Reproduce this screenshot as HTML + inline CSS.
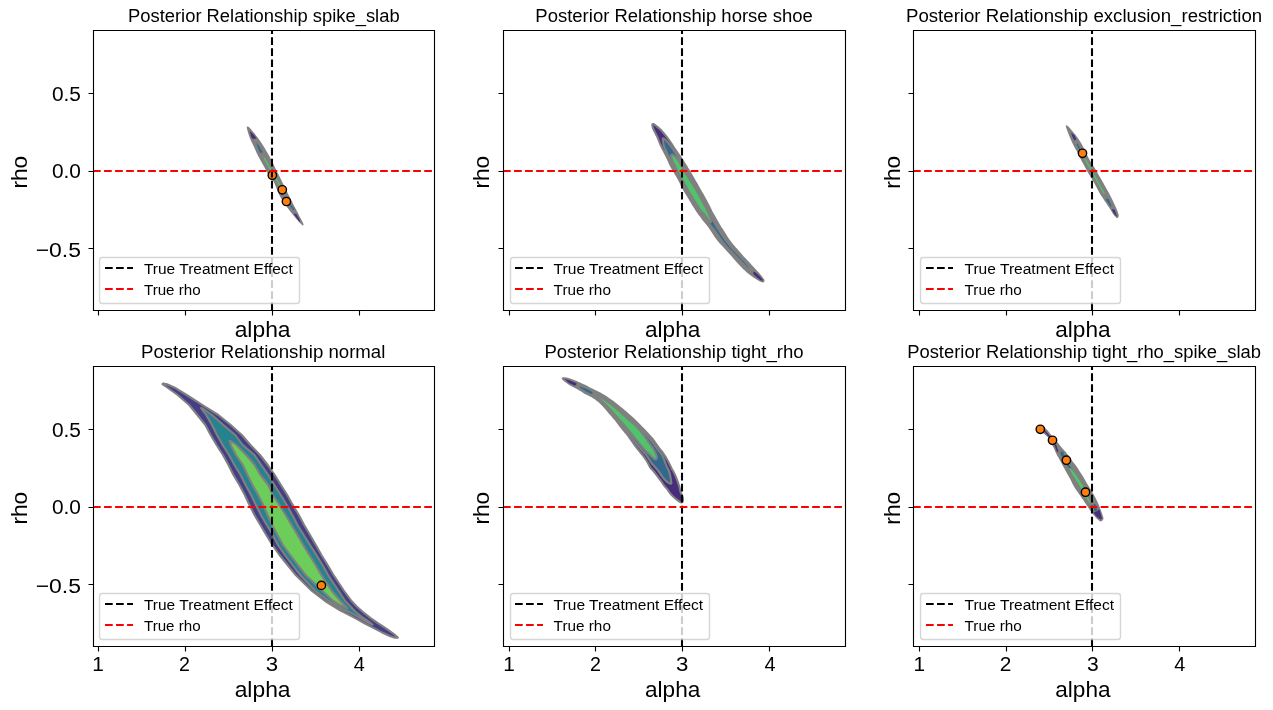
<!DOCTYPE html>
<html><head><meta charset="utf-8"><title>Posterior Relationship</title><style>html,body{margin:0;padding:0;background:#fff;overflow:hidden}svg{display:block;will-change:transform}text{font-family:"Liberation Sans",sans-serif;fill:#000}</style></head><body>
<svg width="1273" height="710" viewBox="0 0 1273 710">
<rect width="1273" height="710" fill="#ffffff"/>
<!-- axes 0 -->
<clipPath id="c0"><rect x="93" y="30" width="341" height="280"/></clipPath>
<g clip-path="url(#c0)">
<path d="M247.85 126.6 L248.35 126.8 L249.07 127.36 L250.03 128.29 L251.2 129.57 L252.6 131.22 L253.94 132.84 L255.21 134.41 L256.43 135.95 L257.57 137.45 L258.69 138.96 L259.76 140.47 L260.8 141.99 L261.8 143.51 L262.78 145.04 L263.73 146.56 L264.65 148.09 L265.55 149.61 L266.32 150.92 L266.97 152.01 L267.5 152.88 L267.9 153.52 L268.44 154.46 L269.11 155.67 L269.92 157.16 L270.88 158.94 L271.81 160.74 L272.72 162.58 L273.61 164.45 L274.49 166.35 L275.34 168.16 L276.16 169.87 L276.96 171.49 L277.74 173.01 L278.51 174.54 L279.27 176.06 L280.02 177.59 L280.77 179.11 L281.49 180.57 L282.18 181.96 L282.84 183.28 L283.46 184.53 L284.12 185.84 L284.81 187.23 L285.52 188.69 L286.27 190.21 L287.05 191.78 L287.85 193.39 L288.68 195.05 L289.53 196.75 L290.38 198.44 L291.23 200.13 L292.07 201.81 L292.93 203.49 L293.77 205.13 L294.61 206.74 L295.44 208.33 L296.26 209.88 L297.09 211.46 L297.93 213.09 L298.77 214.75 L299.62 216.45 L300.44 218.04 L301.21 219.53 L301.95 220.91 L302.65 222.19 L303.14 223.23 L303.43 224.04 L303.51 224.62 L303.39 224.98 L303.26 225.24 L303.12 225.41 L302.97 225.5 L302.82 225.5 L302.57 225.38 L302.23 225.12 L301.78 224.75 L301.22 224.25 L300.53 223.56 L299.69 222.67 L298.71 221.59 L297.59 220.31 L296.46 219.01 L295.34 217.67 L294.21 216.3 L293.09 214.9 L291.99 213.53 L290.93 212.19 L289.9 210.89 L288.9 209.61 L287.91 208.31 L286.92 206.97 L285.94 205.6 L284.96 204.2 L283.95 202.69 L282.9 201.08 L281.81 199.36 L280.69 197.54 L279.66 195.68 L278.72 193.79 L277.88 191.88 L277.12 189.92 L276.39 188.05 L275.68 186.25 L274.99 184.52 L274.31 182.88 L273.43 181.16 L272.33 179.39 L271.01 177.55 L269.49 175.65 L268.16 173.84 L267.02 172.13 L266.07 170.51 L265.32 168.99 L264.54 167.46 L263.71 165.94 L262.85 164.41 L261.95 162.89 L261.06 161.33 L260.17 159.74 L259.29 158.12 L258.41 156.48 L257.58 154.82 L256.77 153.16 L256.01 151.49 L255.29 149.81 L254.56 148.18 L253.82 146.59 L253.07 145.05 L252.32 143.55 L251.6 142.01 L250.9 140.44 L250.22 138.83 L249.57 137.17 L248.96 135.49 L248.39 133.78 L247.85 132.04 L247.35 130.26 L247.01 128.85 L246.82 127.8 L246.79 127.11 L246.91 126.79 L247.13 126.59 L247.44 126.53Z" fill="#808080"/>
<path d="M249.6 131.1 L254 135 L256.5 138.5 L253 139 L251.5 137.5Z" fill="#472d7b"/>
<path d="M256.2 142.8 L259 146 L262.8 152.4 L260.3 153 L258 148Z" fill="#30688e"/>
<path d="M279.38 185.7 L279.41 185.75 L279.45 185.79 L279.49 185.84 L279.53 185.88 L279.58 185.91 L279.63 185.94 L279.69 185.96 L279.74 185.98 L279.8 185.99 L279.86 186 L279.92 186 L279.98 185.99 L280.04 185.98 L280.09 185.97 L280.15 185.95 L280.2 185.92 L280.25 185.89 L280.29 185.85 L280.34 185.81 L280.38 185.77 L280.41 185.72 L280.44 185.67 L280.46 185.61 L280.48 185.56 L280.49 185.5 L280.5 185.44 L280.5 185.38 L280.49 185.32 L280.48 185.26 L280.47 185.21 L280.45 185.15 L280.42 185.1 L264.72 157.8 L264.69 157.75 L264.65 157.71 L264.61 157.66 L264.57 157.62 L264.52 157.59 L264.47 157.56 L264.41 157.54 L264.36 157.52 L264.3 157.51 L264.24 157.5 L264.18 157.5 L264.12 157.51 L264.06 157.52 L264.01 157.53 L263.95 157.55 L263.9 157.58 L263.85 157.61 L263.81 157.65 L263.76 157.69 L263.72 157.73 L263.69 157.78 L263.66 157.83 L263.64 157.89 L263.62 157.94 L263.61 158 L263.6 158.06 L263.6 158.12 L263.61 158.18 L263.62 158.24 L263.63 158.29 L263.65 158.35 L263.68 158.4Z" fill="#50c46a"/>
<path d="M293 209.86 L293.05 209.91 L293.1 209.96 L293.16 210.01 L293.22 210.05 L293.29 210.08 L293.36 210.11 L293.43 210.13 L293.5 210.14 L293.57 210.15 L293.65 210.15 L293.72 210.14 L293.79 210.12 L293.86 210.1 L293.93 210.07 L293.99 210.04 L294.06 210 L294.11 209.95 L294.16 209.9 L294.21 209.84 L294.25 209.78 L294.28 209.71 L294.31 209.64 L294.33 209.57 L294.34 209.5 L294.35 209.43 L294.35 209.35 L294.34 209.28 L294.32 209.21 L294.3 209.14 L294.27 209.07 L294.24 209.01 L294.2 208.94 L290.3 203.84 L290.25 203.79 L290.2 203.74 L290.14 203.69 L290.08 203.65 L290.01 203.62 L289.94 203.59 L289.87 203.57 L289.8 203.56 L289.73 203.55 L289.65 203.55 L289.58 203.56 L289.51 203.58 L289.44 203.6 L289.37 203.63 L289.31 203.66 L289.24 203.7 L289.19 203.75 L289.14 203.8 L289.09 203.86 L289.05 203.92 L289.02 203.99 L288.99 204.06 L288.97 204.13 L288.96 204.2 L288.95 204.27 L288.95 204.35 L288.96 204.42 L288.98 204.49 L289 204.56 L289.03 204.63 L289.06 204.69 L289.1 204.76Z" fill="#30688e"/>
<path d="M294.2 213.4 L296.4 213.9 L300.4 221.2 L299.2 221.8 L294.2 214.5Z" fill="#472d7b"/>
<circle cx="272.3" cy="175.3" r="4.167" fill="#ff7f0e" stroke="#000000" stroke-width="1.389"/>
<circle cx="282.3" cy="189.8" r="4.167" fill="#ff7f0e" stroke="#000000" stroke-width="1.389"/>
<circle cx="286.4" cy="201.5" r="4.167" fill="#ff7f0e" stroke="#000000" stroke-width="1.389"/>
<path d="M272 310 L272 30" stroke="#000000" stroke-width="2.083" stroke-dasharray="7.708 3.333" fill="none"/>
<path d="M93 171 L434 171" stroke="#ff0000" stroke-width="2.083" stroke-dasharray="7.708 3.333" fill="none"/>
</g>
<path d="M93.5 310.5 L93.5 30.5 M434.5 310.5 L434.5 30.5 M93.5 310.5 L434.5 310.5 M93.5 30.5 L434.5 30.5" stroke="#000000" stroke-width="1.111" stroke-linecap="square" fill="none"/>
<path d="M98.5 310.5 L98.5 315.5 M185.5 310.5 L185.5 315.5 M272.5 310.5 L272.5 315.5 M359.5 310.5 L359.5 315.5 M93.5 248.5 L88.5 248.5 M93.5 171.5 L88.5 171.5 M93.5 93.5 L88.5 93.5" stroke="#000000" stroke-width="1.111" fill="none"/>
<!-- axes 1 -->
<clipPath id="c1"><rect x="503" y="30" width="342" height="280"/></clipPath>
<g clip-path="url(#c1)">
<path d="M652.56 123.03 L653.14 122.97 L653.74 123.08 L654.38 123.33 L655.05 123.72 L655.75 124.28 L656.52 124.88 L657.36 125.54 L658.26 126.26 L659.24 127.04 L660.21 127.89 L661.19 128.83 L662.16 129.85 L663.14 130.95 L664.12 132.09 L665.11 133.28 L666.1 134.51 L667.1 135.79 L668.09 137.09 L669.08 138.41 L670.06 139.76 L671.04 141.14 L671.95 142.46 L672.8 143.74 L673.59 144.96 L674.31 146.14 L675.11 147.39 L675.97 148.71 L676.9 150.11 L677.9 151.59 L678.89 153.06 L679.88 154.54 L680.86 156.01 L681.84 157.49 L682.76 158.89 L683.62 160.23 L684.42 161.5 L685.17 162.7 L685.97 163.99 L686.82 165.36 L687.72 166.82 L688.68 168.38 L689.64 169.97 L690.61 171.62 L691.6 173.32 L692.6 175.07 L693.57 176.76 L694.51 178.37 L695.41 179.91 L696.29 181.39 L697.14 182.85 L697.96 184.3 L698.76 185.74 L699.54 187.16 L700.24 188.44 L700.88 189.58 L701.45 190.57 L701.95 191.43 L702.57 192.5 L703.31 193.8 L704.16 195.32 L705.14 197.07 L706.07 198.76 L706.96 200.37 L707.8 201.91 L708.6 203.39 L709.37 204.86 L710.11 206.34 L710.81 207.81 L711.49 209.29 L712.11 210.59 L712.69 211.73 L713.21 212.7 L713.69 213.5 L714.29 214.54 L715.01 215.81 L715.86 217.32 L716.84 219.07 L717.79 220.76 L718.71 222.37 L719.61 223.91 L720.49 225.39 L721.25 226.64 L721.9 227.68 L722.44 228.5 L722.86 229.1 L723.41 229.93 L724.09 230.99 L724.89 232.29 L725.81 233.81 L726.78 235.34 L727.78 236.88 L728.81 238.42 L729.89 239.98 L730.99 241.49 L732.11 242.96 L733.26 244.4 L734.44 245.8 L735.64 247.21 L736.88 248.62 L738.15 250.04 L739.45 251.46 L740.54 252.68 L741.41 253.69 L742.07 254.5 L742.53 255.1 L743.13 255.81 L743.88 256.64 L744.78 257.58 L745.82 258.62 L746.91 259.73 L748.02 260.89 L749.16 262.11 L750.34 263.39 L751.51 264.66 L752.67 265.94 L753.83 267.21 L754.98 268.49 L756.11 269.73 L757.22 270.94 L758.31 272.12 L759.39 273.27 L760.37 274.38 L761.28 275.42 L762.09 276.42 L762.81 277.38 L763.41 278.22 L763.89 278.96 L764.24 279.59 L764.46 280.11 L764.55 280.61 L764.5 281.09 L764.31 281.54 L763.99 281.96 L763.59 282.26 L763.11 282.42 L762.56 282.45 L761.94 282.35 L761.12 282.06 L760.12 281.59 L758.94 280.93 L757.56 280.07 L756.19 279.2 L754.81 278.3 L753.44 277.38 L752.06 276.42 L750.71 275.45 L749.39 274.45 L748.09 273.42 L746.81 272.38 L745.54 271.27 L744.26 270.11 L742.99 268.89 L741.71 267.61 L740.47 266.34 L739.26 265.06 L738.08 263.79 L736.92 262.51 L735.83 261.27 L734.78 260.06 L733.78 258.88 L732.82 257.73 L731.94 256.68 L731.11 255.74 L730.35 254.91 L729.65 254.19 L728.81 253.29 L727.82 252.23 L726.69 251 L725.41 249.6 L724.16 248.23 L722.92 246.87 L721.7 245.55 L720.5 244.25 L719.31 242.89 L718.12 241.46 L716.94 239.98 L715.76 238.42 L714.64 236.88 L713.58 235.34 L712.57 233.81 L711.62 232.29 L710.68 230.83 L709.74 229.42 L708.81 228.09 L707.89 226.81 L706.92 225.54 L705.92 224.26 L704.89 222.99 L703.81 221.71 L702.74 220.39 L701.66 219.01 L700.59 217.59 L699.51 216.11 L698.46 214.64 L697.42 213.16 L696.4 211.69 L695.4 210.21 L694.34 208.59 L693.23 206.81 L692.06 204.89 L690.84 202.81 L689.69 200.89 L688.63 199.13 L687.65 197.52 L686.75 196.08 L685.86 194.62 L684.97 193.16 L684.09 191.69 L683.21 190.21 L682.34 188.64 L681.46 186.96 L680.59 185.19 L679.71 183.31 L678.86 181.56 L678.02 179.94 L677.2 178.44 L676.4 177.06 L675.61 175.71 L674.82 174.39 L674.04 173.09 L673.26 171.81 L672.49 170.52 L671.71 169.21 L670.94 167.88 L670.16 166.52 L669.47 165.21 L668.86 163.94 L668.33 162.7 L667.88 161.5 L667.34 160.23 L666.71 158.89 L666 157.49 L665.2 156.01 L664.41 154.54 L663.62 153.06 L662.84 151.59 L662.06 150.11 L661.32 148.67 L660.62 147.26 L659.96 145.88 L659.34 144.52 L658.77 143.24 L658.26 142.01 L657.8 140.85 L657.4 139.75 L656.95 138.63 L656.45 137.49 L655.9 136.34 L655.3 135.16 L654.71 134.01 L654.12 132.87 L653.54 131.75 L652.96 130.65 L652.47 129.58 L652.06 128.54 L651.73 127.54 L651.48 126.56 L651.33 125.71 L651.27 124.97 L651.33 124.35 L651.48 123.85 L651.73 123.46 L652.09 123.19Z" fill="#808080"/>
<path d="M653.39 125.46 L653.51 126.12 L653.72 126.95 L654.01 127.83 L654.38 128.76 L654.83 129.73 L655.38 130.79 L655.38 130.79 L655.96 131.91 L655.97 131.91 L656.55 133.05 L656.56 133.06 L657.15 134.21 L657.15 134.22 L657.75 135.39 L657.78 135.44 L658.33 136.6 L658.35 136.66 L658.85 137.79 L658.88 137.86 L659.33 138.97 L659.35 139.04 L659.75 140.11 L660.18 141.23 L660.68 142.42 L661.23 143.67 L661.84 144.99 L662.49 146.34 L663.18 147.73 L663.91 149.16 L664.35 150 L674.33 150 L674.24 149.86 L674.23 149.85 L673.36 148.52 L673.35 148.5 L672.56 147.25 L672.54 147.23 L671.83 146.07 L671.06 144.88 L670.23 143.63 L669.33 142.33 L668.37 140.98 L667.41 139.65 L666.43 138.34 L665.46 137.06 L664.47 135.81 L663.5 134.6 L662.53 133.44 L661.57 132.32 L660.63 131.26 L659.71 130.3 L658.8 129.43 L657.9 128.63 L656.97 127.89 L656.06 127.17 L655.23 126.51 L654.46 125.91 L653.87 125.44 L653.46 125.2 L653.37 125.16Z" fill="#472d7b"/>
<path d="M662.94 140.61 L663.1 141.56 L663.25 142.52 L663.39 143.5 L663.51 144.5 L663.74 145.5 L664.06 146.5 L664.49 147.5 L665.01 148.5 L665.51 149.5 L665.97 150.5 L666.4 151.5 L666.8 152.5 L667.23 153.5 L667.69 154.5 L668.19 155.5 L668.71 156.5 L669.2 157.47 L669.65 158.43 L670.06 159.35 L670.44 160.25 L670.81 161.11 L671.19 161.92 L671.56 162.69 L671.94 163.41 L672.38 164.29 L672.88 165.33 L673.44 166.52 L674.06 167.88 L674.52 168.84 L674.72 169.19 L675.49 170.47 L676.26 171.74 L676.27 171.75 L677.05 173.05 L677.05 173.06 L677.84 174.38 L677.85 174.39 L678.64 175.74 L678.65 175.75 L679.45 177.13 L679.48 177.19 L680.3 178.69 L680.33 178.75 L681.17 180.37 L681.19 180.42 L682.05 182.17 L682.07 182.21 L682.93 184.06 L683.78 185.79 L684.63 187.4 L685.47 188.92 L686.32 190.36 L687.19 191.81 L688.08 193.26 L688.96 194.71 L689.86 196.15 L689.87 196.17 L690.85 197.78 L690.86 197.79 L691.92 199.55 L691.93 199.56 L692.5 200.52 L693.14 201.49 L694.09 202.96 L695.01 204.44 L695.91 205.91 L696.79 207.39 L697.66 208.71 L698.52 209.89 L699.38 210.91 L700.22 211.79 L701.11 212.76 L702.04 213.84 L703 215.01 L704 216.29 L705 217.61 L706 218.97 L707 220.38 L708 221.83 L708.94 223.16 L709.81 224.39 L710.62 225.5 L711.38 226.5 L712.07 227.38 L712.71 228.12 L713.29 228.75 L713.81 229.25 L714.78 230.51 L716.19 232.54 L718.05 235.33 L720.35 238.88 L722.96 242.42 L725.89 245.96 L729.12 249.49 L732.68 253.01 L735.98 256.36 L739.04 259.52 L741.86 262.5 L744.44 265.3 L746.57 267.51 L748.26 269.14 L749.5 270.17 L750.3 270.62 L750.95 270.91 L751.45 271.04 L751.8 271 L752 270.8 L751.52 269.89 L750.37 268.26 L748.55 265.92 L746.05 262.88 L743.68 260.16 L742.94 259.41 L742.9 259.38 L742 258.44 L741.95 258.39 L741.2 257.56 L741.14 257.49 L740.54 256.77 L740.45 256.66 L740.27 256.43 L740.26 256.42 L736.97 253.01 L733.43 249.49 L730.19 245.96 L727.26 242.42 L724.65 238.88 L722.35 235.33 L720.41 232.35 L718.84 229.95 L717.62 228.12 L716.78 226.88 L716.01 225.66 L715.32 224.49 L714.71 223.35 L714.19 222.25 L713.62 221.01 L713.02 219.62 L712.39 218.09 L711.71 216.41 L711.03 214.79 L710.34 213.21 L709.65 211.69 L708.95 210.21 L708.14 208.59 L707.23 206.81 L706.21 204.89 L705.09 202.81 L704.02 200.84 L703.01 198.98 L702.05 197.22 L701.15 195.57 L700.31 194.05 L699.54 192.65 L698.83 191.37 L698.17 190.23 L697.46 189.01 L696.67 187.74 L695.81 186.4 L694.89 185 L693.95 183.56 L693 182.07 L692.04 180.54 L691.06 178.96 L690.11 177.41 L689.19 175.89 L688.29 174.39 L687.41 172.91 L686.55 171.46 L685.7 170.04 L684.86 168.64 L684.04 167.26 L683.32 166.01 L682.71 164.87 L682.2 163.85 L681.8 162.95 L681.3 162.05 L680.7 161.15 L680 160.25 L679.2 159.35 L678.5 158.43 L677.9 157.47 L677.4 156.5 L677 155.5 L676.51 154.5 L675.92 153.5 L675.24 152.5 L674.46 151.5 L673.72 150.5 L673.01 149.5 L672.32 148.5 L671.68 147.5 L670.96 146.47 L670.17 145.41 L669.31 144.31 L668.39 143.19 L667.51 142.16 L666.67 141.22 L665.88 140.38 L665.12 139.62 L664.47 139.05 L663.91 138.65 L663.44 138.43 L663.06 138.38 L662.83 138.57 L662.72 139.01 L662.76 139.69Z" fill="#30688e"/>
<path d="M671.65 158.21 L671.67 158.25 L672.17 159.72 L672.17 159.75 L672.65 161.03 L672.66 161.07 L673.11 162.17 L673.13 162.21 L673.56 163.13 L673.59 163.19 L673.98 163.9 L674.43 164.76 L674.93 165.79 L675.5 166.97 L676.12 168.31 L676.12 168.32 L676.76 169.67 L676.76 169.68 L677.41 171.04 L677.41 171.05 L678.08 172.42 L678.08 172.42 L678.75 173.8 L678.77 173.82 L679.47 175.17 L679.49 175.19 L680.22 176.52 L680.24 176.54 L681 177.84 L681.02 177.87 L681.81 179.13 L682.58 180.41 L683.34 181.72 L684.07 183.06 L684.79 184.42 L684.8 184.43 L685.55 185.83 L685.55 185.83 L686.32 187.26 L686.33 187.26 L687.13 188.71 L687.13 188.72 L687.95 190.2 L687.96 190.2 L688.8 191.68 L688.81 191.69 L689.67 193.16 L689.68 193.17 L690.56 194.65 L690.56 194.65 L691.46 196.13 L691.47 196.14 L692.39 197.61 L692.39 197.62 L693.33 199.1 L693.33 199.1 L694.29 200.58 L694.29 200.59 L695.27 202.06 L696.21 203.52 L697.13 204.98 L698.02 206.45 L698.89 207.92 L698.92 207.96 L699.79 209.28 L699.82 209.33 L700.68 210.5 L700.72 210.55 L701.58 211.58 L701.63 211.64 L702.47 212.5 L703.33 213.45 L704.24 214.51 L705.19 215.66 L706.18 216.92 L707.03 218.06 L707.75 219.07 L708.33 219.95 L708.79 220.73 L708.81 220.77 L709.17 221.32 L709.23 221.4 L709.47 221.7 L709.53 221.77 L709.61 221.85 L709.69 221.91 L709.78 221.96 L709.88 222.01 L710 222.06 L710.09 222.09 L710.19 222.12 L710.29 222.13 L710.4 222.14 L710.5 222.14 L710.6 222.12 L710.7 222.1 L710.79 222.06 L710.89 222.02 L710.98 221.97 L711.06 221.91 L711.13 221.84 L711.2 221.76 L711.26 221.68 L711.32 221.59 L711.36 221.5 L711.39 221.4 L711.42 221.3 L711.43 221.2 L711.44 221.1 L711.44 220.9 L711.44 220.8 L711.42 220.7 L711.4 220.6 L711.23 220.04 L711.21 219.98 L710.87 219.04 L710.86 219.02 L710.36 217.71 L710.35 217.7 L709.68 216.02 L709.67 216.01 L708.99 214.39 L708.98 214.37 L708.3 212.8 L708.29 212.78 L707.6 211.26 L707.59 211.24 L706.89 209.77 L706.88 209.76 L706.27 208.5 L706.27 208.49 L705.74 207.45 L705.73 207.43 L705.29 206.61 L705.27 206.58 L704.93 205.98 L704.48 205.18 L703.92 204.15 L703.26 202.9 L702.48 201.43 L702.48 201.42 L701.67 199.91 L701.67 199.9 L700.84 198.34 L700.83 198.34 L699.96 196.73 L699.96 196.73 L699.06 195.08 L699.06 195.07 L698.22 193.55 L698.22 193.55 L697.45 192.15 L697.45 192.14 L696.73 190.87 L696.73 190.86 L696.08 189.71 L696.07 189.69 L695.35 188.48 L695.34 188.47 L694.55 187.19 L694.54 187.18 L693.69 185.84 L693.68 185.83 L692.76 184.43 L691.82 182.99 L690.88 181.51 L689.92 179.99 L688.95 178.42 L688 176.87 L687.08 175.35 L686.18 173.85 L685.31 172.38 L685.31 172.38 L684.44 170.93 L684.44 170.93 L683.59 169.5 L683.59 169.5 L682.75 168.1 L682.75 168.1 L681.93 166.74 L681.23 165.5 L680.63 164.39 L680.14 163.41 L679.75 162.53 L679.71 162.44 L679.21 161.54 L679.17 161.47 L678.57 160.57 L678.52 160.51 L677.82 159.61 L677.78 159.56 L676.98 158.66 L676.97 158.65 L676.21 157.82 L676.2 157.81 L675.49 157.05 L675.48 157.03 L674.81 156.34 L674.8 156.33 L674.17 155.7 L674.13 155.66 L673.63 155.21 L673.55 155.15 L673.16 154.86 L673.07 154.79 L672.96 154.74 L672.7 154.62 L672.61 154.59 L672.51 154.56 L672.42 154.55 L672.32 154.54 L672.23 154.54 L672.13 154.54 L672.04 154.56 L671.95 154.59 L671.8 154.64 L671.7 154.68 L671.61 154.72 L671.52 154.78 L671.44 154.84 L671.37 154.91 L671.3 154.99 L671.24 155.07 L671.19 155.16 L671.15 155.26 L671.12 155.35 L671.1 155.45 L671.09 155.55 L671.09 155.66 L671.1 156.06 L671.11 156.16 L671.12 156.26 L671.3 157.03 L671.32 157.09Z" fill="#50c46a"/>
<path d="M753.4 271.6 L755 272.1 L759 275.5 L762.7 279.7 L762.7 280.5 L761 280.5 L757 277.5 L753.4 274.2Z" fill="#472d7b"/>
<path d="M662.94 140.61 L663.1 141.56 L663.25 142.52 L663.39 143.5 L663.51 144.5 L663.74 145.5 L664.06 146.5 L664.49 147.5 L665.01 148.5 L665.51 149.5 L665.97 150.5 L666.4 151.5 L666.8 152.5 L667.23 153.5 L667.69 154.5 L668.19 155.5 L668.71 156.5 L669.2 157.47 L669.65 158.43 L670.06 159.35 L670.44 160.25 L670.81 161.11 L671.19 161.92 L671.56 162.69 L671.94 163.41 L672.38 164.29 L672.88 165.33 L673.44 166.52 L674.06 167.88 L674.52 168.84 L674.72 169.19 L675.49 170.47 L676.26 171.74 L676.27 171.75 L677.05 173.05 L677.05 173.06 L677.84 174.38 L677.85 174.39 L678.64 175.74 L678.65 175.75 L679.45 177.13 L679.48 177.19 L680.3 178.69 L680.33 178.75 L681.17 180.37 L681.19 180.42 L682.05 182.17 L682.07 182.21 L682.93 184.06 L683.78 185.79 L684.63 187.4 L685.47 188.92 L686.32 190.36 L687.19 191.81 L688.08 193.26 L688.96 194.71 L689.86 196.15 L689.87 196.17 L690.85 197.78 L690.86 197.79 L691.92 199.55 L691.93 199.56 L692.5 200.52 L693.14 201.49 L694.09 202.96 L695.01 204.44 L695.91 205.91 L696.79 207.39 L697.66 208.71 L698.52 209.89 L699.38 210.91 L700.22 211.79 L701.11 212.76 L702.04 213.84 L703 215.01 L704 216.29 L705 217.61 L706 218.97 L707 220.38 L708 221.83 L708.94 223.16 L709.81 224.39 L710.62 225.5 L711.38 226.5 L712.07 227.38 L712.71 228.12 L713.29 228.75 L713.81 229.25 L714.78 230.51 L716.19 232.54 L718.05 235.33 L720.35 238.88 L722.96 242.42 L725.89 245.96 L729.12 249.49 L732.68 253.01 L735.98 256.36 L739.04 259.52 L741.86 262.5 L744.44 265.3 L746.57 267.51 L748.26 269.14 L749.5 270.17 L750.3 270.62 L750.95 270.91 L751.45 271.04 L751.8 271 L752 270.8 L751.52 269.89 L750.37 268.26 L748.55 265.92 L746.05 262.88 L743.68 260.16 L742.94 259.41 L742.9 259.38 L742 258.44 L741.95 258.39 L741.2 257.56 L741.14 257.49 L740.54 256.77 L740.45 256.66 L740.27 256.43 L740.26 256.42 L736.97 253.01 L733.43 249.49 L730.19 245.96 L727.26 242.42 L724.65 238.88 L722.35 235.33 L720.41 232.35 L718.84 229.95 L717.62 228.12 L716.78 226.88 L716.01 225.66 L715.32 224.49 L714.71 223.35 L714.19 222.25 L713.62 221.01 L713.02 219.62 L712.39 218.09 L711.71 216.41 L711.03 214.79 L710.34 213.21 L709.65 211.69 L708.95 210.21 L708.14 208.59 L707.23 206.81 L706.21 204.89 L705.09 202.81 L704.02 200.84 L703.01 198.98 L702.05 197.22 L701.15 195.57 L700.31 194.05 L699.54 192.65 L698.83 191.37 L698.17 190.23 L697.46 189.01 L696.67 187.74 L695.81 186.4 L694.89 185 L693.95 183.56 L693 182.07 L692.04 180.54 L691.06 178.96 L690.11 177.41 L689.19 175.89 L688.29 174.39 L687.41 172.91 L686.55 171.46 L685.7 170.04 L684.86 168.64 L684.04 167.26 L683.32 166.01 L682.71 164.87 L682.2 163.85 L681.8 162.95 L681.3 162.05 L680.7 161.15 L680 160.25 L679.2 159.35 L678.5 158.43 L677.9 157.47 L677.4 156.5 L677 155.5 L676.51 154.5 L675.92 153.5 L675.24 152.5 L674.46 151.5 L673.72 150.5 L673.01 149.5 L672.32 148.5 L671.68 147.5 L670.96 146.47 L670.17 145.41 L669.31 144.31 L668.39 143.19 L667.51 142.16 L666.67 141.22 L665.88 140.38 L665.12 139.62 L664.47 139.05 L663.91 138.65 L663.44 138.43 L663.06 138.38 L662.83 138.57 L662.72 139.01 L662.76 139.69Z" fill="none" stroke="#808080" stroke-width="2.08" stroke-linejoin="round"/>
<path d="M671.65 158.21 L671.67 158.25 L672.17 159.72 L672.17 159.75 L672.65 161.03 L672.66 161.07 L673.11 162.17 L673.13 162.21 L673.56 163.13 L673.59 163.19 L673.98 163.9 L674.43 164.76 L674.93 165.79 L675.5 166.97 L676.12 168.31 L676.12 168.32 L676.76 169.67 L676.76 169.68 L677.41 171.04 L677.41 171.05 L678.08 172.42 L678.08 172.42 L678.75 173.8 L678.77 173.82 L679.47 175.17 L679.49 175.19 L680.22 176.52 L680.24 176.54 L681 177.84 L681.02 177.87 L681.81 179.13 L682.58 180.41 L683.34 181.72 L684.07 183.06 L684.79 184.42 L684.8 184.43 L685.55 185.83 L685.55 185.83 L686.32 187.26 L686.33 187.26 L687.13 188.71 L687.13 188.72 L687.95 190.2 L687.96 190.2 L688.8 191.68 L688.81 191.69 L689.67 193.16 L689.68 193.17 L690.56 194.65 L690.56 194.65 L691.46 196.13 L691.47 196.14 L692.39 197.61 L692.39 197.62 L693.33 199.1 L693.33 199.1 L694.29 200.58 L694.29 200.59 L695.27 202.06 L696.21 203.52 L697.13 204.98 L698.02 206.45 L698.89 207.92 L698.92 207.96 L699.79 209.28 L699.82 209.33 L700.68 210.5 L700.72 210.55 L701.58 211.58 L701.63 211.64 L702.47 212.5 L703.33 213.45 L704.24 214.51 L705.19 215.66 L706.18 216.92 L707.03 218.06 L707.75 219.07 L708.33 219.95 L708.79 220.73 L708.81 220.77 L709.17 221.32 L709.23 221.4 L709.47 221.7 L709.53 221.77 L709.61 221.85 L709.69 221.91 L709.78 221.96 L709.88 222.01 L710 222.06 L710.09 222.09 L710.19 222.12 L710.29 222.13 L710.4 222.14 L710.5 222.14 L710.6 222.12 L710.7 222.1 L710.79 222.06 L710.89 222.02 L710.98 221.97 L711.06 221.91 L711.13 221.84 L711.2 221.76 L711.26 221.68 L711.32 221.59 L711.36 221.5 L711.39 221.4 L711.42 221.3 L711.43 221.2 L711.44 221.1 L711.44 220.9 L711.44 220.8 L711.42 220.7 L711.4 220.6 L711.23 220.04 L711.21 219.98 L710.87 219.04 L710.86 219.02 L710.36 217.71 L710.35 217.7 L709.68 216.02 L709.67 216.01 L708.99 214.39 L708.98 214.37 L708.3 212.8 L708.29 212.78 L707.6 211.26 L707.59 211.24 L706.89 209.77 L706.88 209.76 L706.27 208.5 L706.27 208.49 L705.74 207.45 L705.73 207.43 L705.29 206.61 L705.27 206.58 L704.93 205.98 L704.48 205.18 L703.92 204.15 L703.26 202.9 L702.48 201.43 L702.48 201.42 L701.67 199.91 L701.67 199.9 L700.84 198.34 L700.83 198.34 L699.96 196.73 L699.96 196.73 L699.06 195.08 L699.06 195.07 L698.22 193.55 L698.22 193.55 L697.45 192.15 L697.45 192.14 L696.73 190.87 L696.73 190.86 L696.08 189.71 L696.07 189.69 L695.35 188.48 L695.34 188.47 L694.55 187.19 L694.54 187.18 L693.69 185.84 L693.68 185.83 L692.76 184.43 L691.82 182.99 L690.88 181.51 L689.92 179.99 L688.95 178.42 L688 176.87 L687.08 175.35 L686.18 173.85 L685.31 172.38 L685.31 172.38 L684.44 170.93 L684.44 170.93 L683.59 169.5 L683.59 169.5 L682.75 168.1 L682.75 168.1 L681.93 166.74 L681.23 165.5 L680.63 164.39 L680.14 163.41 L679.75 162.53 L679.71 162.44 L679.21 161.54 L679.17 161.47 L678.57 160.57 L678.52 160.51 L677.82 159.61 L677.78 159.56 L676.98 158.66 L676.97 158.65 L676.21 157.82 L676.2 157.81 L675.49 157.05 L675.48 157.03 L674.81 156.34 L674.8 156.33 L674.17 155.7 L674.13 155.66 L673.63 155.21 L673.55 155.15 L673.16 154.86 L673.07 154.79 L672.96 154.74 L672.7 154.62 L672.61 154.59 L672.51 154.56 L672.42 154.55 L672.32 154.54 L672.23 154.54 L672.13 154.54 L672.04 154.56 L671.95 154.59 L671.8 154.64 L671.7 154.68 L671.61 154.72 L671.52 154.78 L671.44 154.84 L671.37 154.91 L671.3 154.99 L671.24 155.07 L671.19 155.16 L671.15 155.26 L671.12 155.35 L671.1 155.45 L671.09 155.55 L671.09 155.66 L671.1 156.06 L671.11 156.16 L671.12 156.26 L671.3 157.03 L671.32 157.09Z" fill="none" stroke="#808080" stroke-width="2.08" stroke-linejoin="round"/>
<path d="M682 310 L682 30" stroke="#000000" stroke-width="2.083" stroke-dasharray="7.708 3.333" fill="none"/>
<path d="M503 171 L845 171" stroke="#ff0000" stroke-width="2.083" stroke-dasharray="7.708 3.333" fill="none"/>
</g>
<path d="M503.5 310.5 L503.5 30.5 M845.5 310.5 L845.5 30.5 M503.5 310.5 L845.5 310.5 M503.5 30.5 L845.5 30.5" stroke="#000000" stroke-width="1.111" stroke-linecap="square" fill="none"/>
<path d="M509.5 310.5 L509.5 315.5 M595.5 310.5 L595.5 315.5 M682.5 310.5 L682.5 315.5 M769.5 310.5 L769.5 315.5 M503.5 248.5 L498.5 248.5 M503.5 171.5 L498.5 171.5 M503.5 93.5 L498.5 93.5" stroke="#000000" stroke-width="1.111" fill="none"/>
<!-- axes 2 -->
<clipPath id="c2"><rect x="913" y="30" width="342" height="280"/></clipPath>
<g clip-path="url(#c2)">
<path d="M1066.91 125.51 L1067.39 125.79 L1068.03 126.31 L1068.82 127.09 L1069.79 128.11 L1070.91 129.39 L1072.04 130.69 L1073.18 132.03 L1074.33 133.4 L1075.48 134.8 L1076.58 136.24 L1077.64 137.71 L1078.66 139.22 L1079.64 140.78 L1080.58 142.32 L1081.49 143.87 L1082.38 145.42 L1083.22 146.97 L1084.05 148.56 L1084.85 150.17 L1085.62 151.81 L1086.38 153.49 L1087.16 155.16 L1087.97 156.82 L1088.81 158.48 L1089.69 160.12 L1090.61 161.74 L1091.59 163.33 L1092.61 164.89 L1093.69 166.41 L1094.71 167.97 L1095.69 169.56 L1096.61 171.18 L1097.49 172.83 L1098.37 174.44 L1099.26 176.01 L1100.15 177.55 L1101.05 179.05 L1101.91 180.51 L1102.72 181.94 L1103.49 183.32 L1104.21 184.68 L1105.01 186.12 L1105.87 187.66 L1106.8 189.29 L1107.8 191.01 L1108.77 192.75 L1109.71 194.5 L1110.61 196.26 L1111.49 198.04 L1112.34 199.78 L1113.16 201.49 L1113.96 203.18 L1114.74 204.82 L1115.47 206.44 L1116.18 208.03 L1116.84 209.59 L1117.46 211.11 L1117.96 212.44 L1118.34 213.58 L1118.59 214.53 L1118.71 215.28 L1118.71 215.96 L1118.59 216.59 L1118.34 217.15 L1117.96 217.65 L1117.62 217.99 L1117.31 218.18 L1117.03 218.21 L1116.78 218.09 L1116.39 217.78 L1115.88 217.28 L1115.24 216.59 L1114.46 215.71 L1113.63 214.64 L1112.74 213.38 L1111.8 211.93 L1110.8 210.28 L1109.73 208.56 L1108.59 206.79 L1107.39 204.95 L1106.11 203.05 L1104.84 201.15 L1103.58 199.25 L1102.33 197.35 L1101.08 195.45 L1100.01 193.77 L1099.14 192.31 L1098.45 191.06 L1097.95 190.04 L1097.39 188.92 L1096.76 187.71 L1096.08 186.4 L1095.33 185 L1094.51 183.54 L1093.64 182.01 L1092.7 180.43 L1091.7 178.78 L1090.73 177.16 L1089.78 175.57 L1088.85 174.01 L1087.95 172.49 L1087.06 170.93 L1086.17 169.34 L1085.29 167.72 L1084.41 166.07 L1083.58 164.52 L1082.79 163.06 L1082.05 161.69 L1081.35 160.41 L1080.66 159.09 L1079.99 157.73 L1079.33 156.32 L1078.67 154.88 L1077.98 153.43 L1077.23 151.99 L1076.42 150.56 L1075.58 149.14 L1074.73 147.65 L1073.89 146.1 L1073.06 144.49 L1072.24 142.81 L1071.44 141.1 L1070.66 139.35 L1069.91 137.56 L1069.19 135.74 L1068.49 133.94 L1067.81 132.18 L1067.16 130.45 L1066.54 128.75 L1066.11 127.41 L1065.87 126.42 L1065.83 125.79 L1065.98 125.51 L1066.21 125.37 L1066.52 125.37Z" fill="#808080"/>
<path d="M1071 132.4 L1074.5 135.5 L1076.3 139.4 L1074.5 140.5 L1072.5 137Z" fill="#472d7b"/>
<path d="M1079.42 150.19 L1079.45 150.24 L1079.48 150.29 L1079.52 150.34 L1079.57 150.39 L1079.62 150.43 L1079.67 150.46 L1079.73 150.49 L1079.79 150.52 L1079.85 150.53 L1079.91 150.54 L1079.98 150.55 L1080.04 150.55 L1080.1 150.54 L1080.17 150.53 L1080.23 150.51 L1080.29 150.48 L1080.34 150.45 L1080.39 150.42 L1080.44 150.38 L1080.49 150.33 L1080.53 150.28 L1080.56 150.23 L1080.59 150.17 L1080.62 150.11 L1080.63 150.05 L1080.64 149.99 L1080.65 149.92 L1080.65 149.86 L1080.64 149.8 L1080.63 149.73 L1080.61 149.67 L1080.58 149.61 L1077.78 143.91 L1077.75 143.86 L1077.72 143.81 L1077.68 143.76 L1077.63 143.71 L1077.58 143.67 L1077.53 143.64 L1077.47 143.61 L1077.41 143.58 L1077.35 143.57 L1077.29 143.56 L1077.22 143.55 L1077.16 143.55 L1077.1 143.56 L1077.03 143.57 L1076.97 143.59 L1076.91 143.62 L1076.86 143.65 L1076.81 143.68 L1076.76 143.72 L1076.71 143.77 L1076.67 143.82 L1076.64 143.87 L1076.61 143.93 L1076.58 143.99 L1076.57 144.05 L1076.56 144.11 L1076.55 144.18 L1076.55 144.24 L1076.56 144.3 L1076.57 144.37 L1076.59 144.43 L1076.62 144.49Z" fill="#30688e"/>
<path d="M1103.67 193.89 L1103.71 193.94 L1103.74 193.99 L1103.78 194.03 L1103.83 194.07 L1103.87 194.1 L1103.92 194.13 L1103.98 194.16 L1104.03 194.18 L1104.09 194.19 L1104.15 194.2 L1104.21 194.2 L1104.27 194.2 L1104.33 194.19 L1104.38 194.17 L1104.44 194.15 L1104.49 194.13 L1104.54 194.09 L1104.59 194.06 L1104.63 194.02 L1104.67 193.97 L1104.7 193.93 L1104.73 193.88 L1104.76 193.82 L1104.78 193.77 L1104.79 193.71 L1104.8 193.65 L1104.8 193.59 L1104.8 193.53 L1104.79 193.47 L1104.77 193.42 L1104.75 193.36 L1104.73 193.31 L1085.63 158.71 L1085.59 158.66 L1085.56 158.61 L1085.52 158.57 L1085.47 158.53 L1085.43 158.5 L1085.38 158.47 L1085.32 158.44 L1085.27 158.42 L1085.21 158.41 L1085.15 158.4 L1085.09 158.4 L1085.03 158.4 L1084.97 158.41 L1084.92 158.43 L1084.86 158.45 L1084.81 158.47 L1084.76 158.51 L1084.71 158.54 L1084.67 158.58 L1084.63 158.63 L1084.6 158.67 L1084.57 158.72 L1084.54 158.78 L1084.52 158.83 L1084.51 158.89 L1084.5 158.95 L1084.5 159.01 L1084.5 159.07 L1084.51 159.13 L1084.53 159.18 L1084.55 159.24 L1084.57 159.29Z" fill="#50c46a"/>
<path d="M1106 198.5 L1108.5 199 L1111.5 206 L1110.5 206.5 L1106.5 200.5Z" fill="#30688e"/>
<path d="M1112 209.3 L1114.5 209.5 L1116.9 215.9 L1116 216.2 L1112.5 211Z" fill="#472d7b"/>
<circle cx="1082.5" cy="153.3" r="4.167" fill="#ff7f0e" stroke="#000000" stroke-width="1.389"/>
<path d="M1092 310 L1092 30" stroke="#000000" stroke-width="2.083" stroke-dasharray="7.708 3.333" fill="none"/>
<path d="M913 171 L1255 171" stroke="#ff0000" stroke-width="2.083" stroke-dasharray="7.708 3.333" fill="none"/>
</g>
<path d="M913.5 310.5 L913.5 30.5 M1255.5 310.5 L1255.5 30.5 M913.5 310.5 L1255.5 310.5 M913.5 30.5 L1255.5 30.5" stroke="#000000" stroke-width="1.111" stroke-linecap="square" fill="none"/>
<path d="M919.5 310.5 L919.5 315.5 M1006.5 310.5 L1006.5 315.5 M1092.5 310.5 L1092.5 315.5 M1179.5 310.5 L1179.5 315.5 M913.5 248.5 L908.5 248.5 M913.5 171.5 L908.5 171.5 M913.5 93.5 L908.5 93.5" stroke="#000000" stroke-width="1.111" fill="none"/>
<!-- axes 3 -->
<clipPath id="c3"><rect x="93" y="366" width="341" height="280"/></clipPath>
<g clip-path="url(#c3)">
<path d="M162.5 384.1 L168 388 L177.7 395 L189.2 405 L197.4 415 L205.4 425 L210.7 435 L216.6 445 L223 455 L228.5 465 L233.5 475 L239.5 485 L244.8 495 L248.5 503 L254.5 515 L260.4 525 L266.3 535 L272.4 545 L279.5 555 L287.6 565 L295.7 575 L312 591 L325.1 601 L340.5 610.5 L346.5 613.5 L355.3 618.2 L364 623 L372.8 627.6 L381.6 632.2 L390.3 636.3 L395 637.8 L397.8 637.6 L394.5 634.5 L387 629.2 L378.2 623.3 L370.3 617.9 L363.2 612.2 L356.7 606.5 L351.5 601 L344.1 591 L333.5 575 L327.6 565 L321.4 555 L315.8 545 L310 535 L304.1 525 L298.8 515 L291.6 503 L287.2 495 L280.9 485 L274.7 475 L267.8 465 L260 455 L250.4 445 L241.8 435 L230.7 425 L218.3 415 L203.3 405.6 L187.5 395.5 L176 388.3 L167 384.2 L163.5 383.4Z" fill="#443e87"/>
<path d="M201 408 L206.2 415 L212 425 L217 435 L222.7 445 L229 455 L234.5 465 L240.6 475 L245.6 485 L251.1 495 L254.9 503 L260.9 515 L266.7 525 L273 535 L278 545 L284.9 555 L292.4 565 L300.2 575 L315.3 591 L328.9 601 L342 609 L350.7 612.8 L357.8 616.7 L364.9 620.8 L369.6 623.2 L372.5 624.6 L368.4 621.4 L362.5 617.3 L354.8 611.3 L349.5 605.4 L345.2 601 L338.7 591 L328.1 575 L322.5 565 L316.4 555 L310 545 L303.7 535 L297.5 525 L292.3 515 L285.6 503 L280.7 495 L274.3 485 L268.2 475 L261.3 465 L254.4 455 L242.7 445 L235.2 435 L223.3 425 L212 415 L203.5 409Z" fill="#26828e"/>
<path d="M229.5 441 L230.8 445 L235.9 455 L242.8 465 L247.5 475 L252.5 485 L258.1 495 L262.3 503 L267.5 515 L272.2 525 L277.5 535 L282.8 545 L290.3 555 L297.8 565 L305.6 575 L322.4 591 L333.3 601 L340.5 605.5 L347.5 608.5 L340.5 601 L331.9 591 L321.3 575 L315.7 565 L309.4 555 L303.2 545 L297.6 535 L291.6 525 L285.7 515 L278.2 503 L272.9 495 L268.2 485 L260.4 475 L254.7 465 L246.3 455 L236.4 445 L231 441Z" fill="#6ccd5a"/>
<path d="M162.5 384.1 L168 388 L177.7 395 L189.2 405 L197.4 415 L205.4 425 L210.7 435 L216.6 445 L223 455 L228.5 465 L233.5 475 L239.5 485 L244.8 495 L248.5 503 L254.5 515 L260.4 525 L266.3 535 L272.4 545 L279.5 555 L287.6 565 L295.7 575 L312 591 L325.1 601 L340.5 610.5 L346.5 613.5 L355.3 618.2 L364 623 L372.8 627.6 L381.6 632.2 L390.3 636.3 L395 637.8 L397.8 637.6 L394.5 634.5 L387 629.2 L378.2 623.3 L370.3 617.9 L363.2 612.2 L356.7 606.5 L351.5 601 L344.1 591 L333.5 575 L327.6 565 L321.4 555 L315.8 545 L310 535 L304.1 525 L298.8 515 L291.6 503 L287.2 495 L280.9 485 L274.7 475 L267.8 465 L260 455 L250.4 445 L241.8 435 L230.7 425 L218.3 415 L203.3 405.6 L187.5 395.5 L176 388.3 L167 384.2 L163.5 383.4Z" fill="none" stroke="#808080" stroke-width="2.08" stroke-linejoin="round"/>
<path d="M201 408 L206.2 415 L212 425 L217 435 L222.7 445 L229 455 L234.5 465 L240.6 475 L245.6 485 L251.1 495 L254.9 503 L260.9 515 L266.7 525 L273 535 L278 545 L284.9 555 L292.4 565 L300.2 575 L315.3 591 L328.9 601 L342 609 L350.7 612.8 L357.8 616.7 L364.9 620.8 L369.6 623.2 L372.5 624.6 L368.4 621.4 L362.5 617.3 L354.8 611.3 L349.5 605.4 L345.2 601 L338.7 591 L328.1 575 L322.5 565 L316.4 555 L310 545 L303.7 535 L297.5 525 L292.3 515 L285.6 503 L280.7 495 L274.3 485 L268.2 475 L261.3 465 L254.4 455 L242.7 445 L235.2 435 L223.3 425 L212 415 L203.5 409Z" fill="none" stroke="#808080" stroke-width="2.08" stroke-linejoin="round"/>
<path d="M229.5 441 L230.8 445 L235.9 455 L242.8 465 L247.5 475 L252.5 485 L258.1 495 L262.3 503 L267.5 515 L272.2 525 L277.5 535 L282.8 545 L290.3 555 L297.8 565 L305.6 575 L322.4 591 L333.3 601 L340.5 605.5 L347.5 608.5 L340.5 601 L331.9 591 L321.3 575 L315.7 565 L309.4 555 L303.2 545 L297.6 535 L291.6 525 L285.7 515 L278.2 503 L272.9 495 L268.2 485 L260.4 475 L254.7 465 L246.3 455 L236.4 445 L231 441Z" fill="none" stroke="#808080" stroke-width="2.08" stroke-linejoin="round"/>
<circle cx="321.4" cy="585.4" r="4.167" fill="#ff7f0e" stroke="#000000" stroke-width="1.389"/>
<path d="M272 646 L272 366" stroke="#000000" stroke-width="2.083" stroke-dasharray="7.708 3.333" fill="none"/>
<path d="M93 507 L434 507" stroke="#ff0000" stroke-width="2.083" stroke-dasharray="7.708 3.333" fill="none"/>
</g>
<path d="M93.5 646.5 L93.5 366.5 M434.5 646.5 L434.5 366.5 M93.5 646.5 L434.5 646.5 M93.5 366.5 L434.5 366.5" stroke="#000000" stroke-width="1.111" stroke-linecap="square" fill="none"/>
<path d="M98.5 646.5 L98.5 651.5 M185.5 646.5 L185.5 651.5 M272.5 646.5 L272.5 651.5 M359.5 646.5 L359.5 651.5 M93.5 584.5 L88.5 584.5 M93.5 507.5 L88.5 507.5 M93.5 429.5 L88.5 429.5" stroke="#000000" stroke-width="1.111" fill="none"/>
<!-- axes 4 -->
<clipPath id="c4"><rect x="503" y="366" width="342" height="280"/></clipPath>
<g clip-path="url(#c4)">
<path d="M562.4 377.52 L563 377.27 L563.82 377.17 L564.86 377.22 L566.11 377.42 L567.59 377.78 L569.18 378.24 L570.89 378.81 L572.73 379.5 L574.68 380.3 L576.63 381.12 L578.59 381.96 L580.56 382.81 L582.54 383.69 L584.37 384.53 L586.06 385.34 L587.6 386.12 L589 386.88 L590.56 387.68 L592.27 388.52 L594.14 389.42 L596.16 390.38 L598.27 391.44 L600.46 392.61 L602.73 393.9 L605.08 395.3 L607.42 396.79 L609.76 398.38 L612.09 400.06 L614.41 401.84 L616.66 403.58 L618.82 405.29 L620.9 406.97 L622.9 408.62 L624.84 410.25 L626.73 411.85 L628.56 413.43 L630.34 414.98 L632.06 416.52 L633.72 418.06 L635.33 419.59 L636.88 421.11 L638.39 422.61 L639.86 424.07 L641.3 425.5 L642.7 426.9 L643.85 428.06 L644.75 428.97 L645.4 429.64 L645.8 430.06 L646.46 430.76 L647.37 431.74 L648.54 432.99 L649.96 434.51 L651.33 436.04 L652.63 437.56 L653.86 439.09 L655.04 440.61 L656.18 442.14 L657.29 443.66 L658.38 445.19 L659.42 446.71 L660.34 447.99 L661.11 449.01 L661.75 449.79 L662.25 450.31 L662.89 451.12 L663.68 452.21 L664.61 453.58 L665.69 455.22 L666.7 456.85 L667.65 458.45 L668.54 460.02 L669.36 461.57 L670.13 463.06 L670.83 464.47 L671.46 465.81 L672.04 467.09 L672.56 468.18 L673.04 469.07 L673.46 469.79 L673.84 470.31 L674.3 471.09 L674.85 472.13 L675.49 473.43 L676.21 474.98 L676.88 476.49 L677.47 477.96 L678.01 479.4 L678.49 480.8 L678.93 482.11 L679.34 483.32 L679.73 484.44 L680.08 485.46 L680.39 486.53 L680.66 487.64 L680.9 488.8 L681.1 490 L681.38 491.14 L681.74 492.23 L682.19 493.26 L682.71 494.24 L683.15 495.22 L683.5 496.21 L683.76 497.2 L683.94 498.2 L684.02 499.14 L684.01 500.03 L683.9 500.86 L683.7 501.64 L683.42 502.27 L683.07 502.76 L682.65 503.1 L682.15 503.3 L681.68 503.43 L681.24 503.48 L680.84 503.45 L680.46 503.35 L679.91 503.08 L679.17 502.64 L678.25 502.04 L677.15 501.26 L676.08 500.46 L675.04 499.62 L674.04 498.75 L673.06 497.85 L672.14 496.96 L671.26 496.07 L670.44 495.19 L669.66 494.31 L668.98 493.48 L668.39 492.69 L667.9 491.95 L667.5 491.25 L666.96 490.46 L666.27 489.57 L665.44 488.59 L664.46 487.51 L663.62 486.52 L662.91 485.61 L662.33 484.77 L661.88 484.02 L661.28 483.11 L660.53 482.04 L659.62 480.8 L658.58 479.4 L657.49 477.96 L656.38 476.49 L655.24 474.98 L654.06 473.43 L653.02 472.13 L652.12 471.09 L651.36 470.31 L650.74 469.79 L650.06 468.99 L649.34 467.91 L648.56 466.56 L647.74 464.94 L646.88 463.36 L645.99 461.84 L645.08 460.36 L644.12 458.94 L643.12 457.51 L642.06 456.09 L640.94 454.66 L639.76 453.24 L638.6 451.8 L637.45 450.35 L636.31 448.89 L635.19 447.41 L634.09 445.93 L633.01 444.44 L631.96 442.95 L630.94 441.45 L629.88 439.94 L628.77 438.41 L627.64 436.87 L626.46 435.33 L625.31 433.85 L624.19 432.45 L623.09 431.12 L622.01 429.88 L620.96 428.59 L619.94 427.28 L618.94 425.94 L617.96 424.56 L616.94 423.18 L615.86 421.77 L614.74 420.36 L613.56 418.94 L612.26 417.38 L610.82 415.69 L609.25 413.88 L607.55 411.92 L605.91 410.06 L604.34 408.29 L602.83 406.6 L601.38 405 L599.84 403.48 L598.23 402.03 L596.54 400.65 L594.76 399.35 L592.99 398.17 L591.21 397.11 L589.44 396.16 L587.66 395.34 L585.99 394.49 L584.43 393.63 L582.97 392.75 L581.62 391.85 L580.24 390.98 L578.83 390.14 L577.39 389.34 L575.91 388.56 L574.44 387.78 L572.96 386.99 L571.49 386.2 L570.01 385.4 L568.56 384.53 L567.14 383.59 L565.74 382.59 L564.36 381.51 L563.28 380.58 L562.49 379.79 L562 379.15 L561.8 378.65 L561.8 378.21 L562 377.84Z" fill="#808080"/>
<path d="M631.56 438.72 L631.58 438.74 L632.64 440.25 L632.65 440.28 L633.67 441.77 L634.71 443.24 L635.77 444.7 L636.85 446.16 L637.96 447.62 L639.09 449.07 L640.22 450.5 L641.37 451.92 L642.54 453.34 L642.57 453.38 L643.69 454.8 L643.72 454.84 L644.79 456.27 L644.82 456.31 L645.82 457.74 L645.86 457.78 L646.81 459.21 L646.84 459.26 L647.76 460.74 L647.79 460.79 L648.68 462.32 L648.71 462.37 L649.56 463.94 L649.59 464 L650.39 465.57 L651.1 466.81 L651.72 467.73 L652.21 468.31 L652.7 468.72 L652.85 468.86 L653.61 469.64 L653.7 469.73 L654.6 470.77 L654.65 470.83 L655.69 472.12 L655.72 472.17 L656.9 473.72 L656.9 473.72 L658.04 475.23 L658.04 475.24 L659.15 476.71 L659.16 476.71 L660.24 478.15 L660.24 478.15 L661.29 479.55 L661.31 479.58 L662.21 480.81 L662.23 480.85 L662.98 481.92 L663.01 481.97 L663.61 482.88 L663.66 482.95 L664.07 483.64 L664.58 484.37 L665.23 485.21 L666.03 486.14 L666.98 487.19 L667.02 487.24 L667.86 488.22 L667.91 488.29 L668.6 489.18 L668.67 489.28 L669.22 490.07 L669.31 490.22 L669.67 490.86 L670.1 491.5 L670.62 492.2 L671.25 492.96 L671.98 493.79 L672.76 494.63 L673.6 495.48 L674.49 496.34 L675.42 497.2 L676.38 498.02 L677.36 498.82 L678.38 499.58 L679.42 500.32 L680.27 500.88 L680.89 501.25 L681.18 501.39 L681.19 501.39 L681.29 501.38 L681.49 501.32 L681.56 501.29 L681.61 501.24 L681.73 500.96 L681.85 500.47 L681.93 499.88 L681.94 499.22 L681.87 498.47 L681.73 497.65 L681.51 496.82 L681.22 495.99 L680.84 495.16 L680.36 494.25 L680.28 494.08 L679.83 493.05 L679.77 492.89 L679.41 491.8 L679.36 491.64 L679.08 490.5 L679.05 490.34 L678.85 489.18 L678.63 488.1 L678.38 487.07 L678.09 486.09 L677.76 485.11 L677.37 483.99 L676.96 482.78 L676.52 481.47 L676.05 480.1 L675.54 478.72 L674.96 477.3 L674.32 475.83 L673.61 474.33 L673 473.08 L672.49 472.11 L672.09 471.45 L671.77 471 L671.68 470.85 L671.25 470.14 L671.2 470.05 L670.72 469.15 L670.69 469.08 L670.16 467.99 L670.14 467.94 L669.57 466.69 L668.95 465.38 L668.27 463.99 L667.52 462.54 L666.71 461.02 L665.85 459.49 L664.92 457.93 L663.93 456.34 L662.88 454.73 L661.98 453.4 L661.24 452.38 L660.68 451.68 L660.24 451.22 L660.14 451.11 L659.51 450.33 L659.45 450.27 L658.68 449.24 L658.65 449.2 L657.73 447.92 L657.71 447.89 L656.67 446.38 L655.61 444.88 L654.51 443.37 L653.38 441.87 L652.23 440.38 L651.03 438.89 L649.76 437.41 L648.43 435.92 L647.02 434.41 L646.14 433.47 L630.58 437.36Z" fill="#472d7b"/>
<path d="M597.31 394.54 L597.23 394.58 L596.93 394.76 L596.65 394.97 L596.39 395.21 L596.16 395.47 L595.96 395.75 L595.78 396.05 L595.65 396.34 L596.42 396.85 L596.54 396.93 L598.31 398.23 L598.43 398.32 L600.12 399.7 L600.24 399.79 L601.85 401.24 L601.96 401.35 L603.49 402.87 L603.6 402.99 L605.05 404.59 L605.06 404.6 L606.57 406.29 L606.58 406.3 L608.16 408.07 L608.17 408.08 L609.8 409.94 L609.81 409.95 L611.51 411.9 L611.52 411.92 L613.09 413.73 L613.1 413.75 L614.54 415.44 L614.55 415.45 L615.86 417.01 L615.88 417.03 L617.05 418.45 L617.08 418.49 L618.21 419.91 L618.24 419.95 L619.32 421.35 L619.35 421.39 L620.38 422.78 L620.41 422.83 L621.36 424.17 L622.32 425.46 L623.31 426.72 L624.31 427.95 L625.36 429.17 L625.4 429.21 L626.5 430.53 L626.53 430.57 L627.65 431.97 L627.68 432.01 L628.83 433.48 L628.85 433.51 L630.03 435.06 L630.05 435.09 L631.19 436.63 L631.21 436.66 L632.31 438.18 L632.33 438.21 L633.39 439.73 L633.41 439.76 L634.43 441.24 L634.72 441.66 L635.4 442.45 L636.26 443.45 L637.19 444.56 L638.15 445.71 L639.13 446.92 L640.14 448.17 L641.18 449.49 L641.29 449.61 L642.43 450.92 L642.53 451.04 L643.77 452.34 L643.87 452.44 L645.16 453.69 L646.14 454.98 L647.22 456.49 L648.22 457.96 L649.14 459.4 L649.96 460.8 L650.71 461.98 L651.37 462.94 L651.95 463.69 L652.45 464.21 L653.12 464.93 L653.96 465.84 L654.96 466.95 L656.14 468.25 L657.26 469.57 L658.32 470.92 L659.32 472.3 L660.27 473.7 L661.23 475.05 L662.18 476.35 L663.12 477.6 L664.08 478.8 L665.02 479.88 L665.96 480.83 L666.89 481.65 L667.81 482.35 L668.66 482.91 L669.42 483.32 L670.1 483.59 L670.7 483.71 L671.12 483.62 L671.36 483.32 L671.41 482.81 L671.29 482.09 L671.14 481.19 L670.96 480.13 L670.76 478.9 L670.54 477.5 L670.31 476.18 L670.07 474.94 L669.83 473.79 L669.58 472.71 L669.19 471.54 L668.68 470.26 L668.04 468.89 L667.26 467.41 L666.55 465.93 L665.9 464.44 L665.31 462.95 L664.79 461.45 L664.19 459.88 L663.51 458.24 L662.76 456.54 L662.27 455.47 L662.12 455.24 L661.23 453.93 L660.51 452.94 L659.99 452.29 L659.58 451.86 L659.43 451.69 L658.8 450.92 L658.72 450.82 L657.94 449.8 L657.9 449.73 L656.99 448.46 L656.95 448.41 L655.92 446.91 L654.86 445.41 L653.77 443.92 L652.65 442.43 L651.51 440.95 L650.32 439.48 L649.41 438.41 L648.86 438.27 L648.06 437.1 L648.03 437.06 L647.37 436.13 L646.35 435.04 L645.18 433.79 L644.27 432.81 L643.61 432.12 L643.23 431.71 L642.61 431.07 L641.72 430.17 L640.58 429.02 L639.18 427.62 L637.75 426.2 L636.28 424.74 L634.77 423.25 L633.24 421.74 L631.67 420.24 L630.04 418.74 L628.35 417.22 L626.6 415.69 L624.78 414.13 L622.91 412.55 L620.98 410.93 L619 409.3 L616.94 407.64 L614.8 405.94 L612.58 404.21 L610.3 402.47 L608.04 400.84 L605.77 399.3 L603.5 397.85 L601.22 396.49 L599.01 395.24 L597.52 394.44Z" fill="#30688e"/>
<path d="M600.17 396.97 L599.68 396.76 L599.56 396.71 L599.27 396.62 L599.17 396.6 L599.07 396.58 L598.97 396.58 L598.87 396.58 L598.76 396.6 L598.66 396.62 L598.57 396.66 L598.48 396.7 L598.39 396.75 L598.31 396.8 L598.22 396.86 L598.15 396.93 L598.08 397.01 L598.02 397.09 L597.96 397.18 L597.92 397.28 L597.89 397.38 L597.86 397.48 L597.85 397.58 L597.85 397.68 L597.86 397.79 L597.87 397.89 L597.9 397.99 L597.94 398.09 L597.99 398.18 L598.04 398.27 L598.17 398.44 L598.23 398.52 L598.3 398.59 L598.63 398.91 L598.68 398.95 L599.21 399.4 L599.24 399.42 L599.98 400 L599.99 400.01 L600.93 400.73 L601.91 401.51 L602.93 402.36 L604 403.28 L605.11 404.27 L606.29 405.38 L607.55 406.63 L608.88 408 L610.3 409.52 L611.72 411.07 L613.14 412.65 L614.55 414.26 L615.98 415.9 L615.98 415.91 L617.4 417.53 L617.4 417.54 L618.81 419.14 L618.82 419.14 L620.22 420.72 L620.23 420.72 L621.63 422.27 L622.94 423.74 L624.17 425.15 L625.32 426.49 L626.39 427.76 L626.4 427.76 L627.3 428.82 L627.31 428.83 L628.05 429.68 L628.06 429.69 L628.62 430.33 L628.64 430.35 L629.02 430.76 L629.59 431.43 L630.37 432.39 L631.34 433.63 L632.51 435.15 L632.52 435.16 L633.55 436.47 L633.56 436.48 L634.45 437.58 L634.46 437.59 L635.2 438.48 L635.22 438.5 L635.82 439.17 L636.5 439.96 L637.27 440.85 L638.13 441.86 L639.08 442.98 L640.05 444.15 L641.04 445.37 L642.06 446.64 L643.11 447.96 L643.14 448 L644.28 449.31 L644.32 449.34 L645.55 450.64 L645.58 450.67 L646.91 451.96 L646.94 451.99 L648.37 453.26 L649.63 454.41 L650.75 455.46 L651.71 456.38 L652.53 457.2 L652.53 457.2 L653.23 457.89 L653.24 457.9 L653.8 458.43 L653.82 458.45 L654.25 458.84 L654.28 458.87 L654.58 459.12 L654.67 459.19 L654.76 459.24 L654.86 459.29 L654.96 459.32 L655.2 459.39 L655.29 459.42 L655.39 459.43 L655.49 459.43 L655.59 459.43 L655.69 459.41 L655.78 459.39 L655.87 459.36 L655.96 459.32 L656.05 459.27 L656.22 459.16 L656.31 459.09 L656.4 459.02 L656.47 458.94 L656.53 458.85 L656.59 458.75 L656.63 458.65 L656.75 458.36 L656.77 458.27 L656.8 458.19 L656.81 458.1 L656.86 457.62 L656.86 457.53 L656.86 457.45 L656.85 457.36 L656.75 456.65 L656.72 456.52 L656.46 455.57 L656.44 455.5 L656.02 454.32 L656 454.27 L655.43 452.85 L655.41 452.8 L654.78 451.45 L654.76 451.4 L654.08 450.11 L654.06 450.06 L653.33 448.84 L653.3 448.79 L652.52 447.64 L652.52 447.63 L651.77 446.55 L651.76 446.54 L651.04 445.51 L651.03 445.5 L650.33 444.54 L650.32 444.53 L649.65 443.63 L648.89 442.59 L648.03 441.38 L647.08 440.02 L646.03 438.5 L646.02 438.49 L644.94 436.96 L644.93 436.95 L643.82 435.42 L643.81 435.41 L642.67 433.89 L642.66 433.88 L641.49 432.35 L641.48 432.34 L640.38 430.97 L640.37 430.95 L639.36 429.72 L639.34 429.71 L638.41 428.63 L638.39 428.61 L637.54 427.68 L637.53 427.67 L636.68 426.78 L636.66 426.76 L635.81 425.91 L635.79 425.9 L634.94 425.09 L634.93 425.07 L634.08 424.29 L634.06 424.28 L633.04 423.38 L633.03 423.37 L631.83 422.33 L631.82 422.33 L630.45 421.16 L630.44 421.15 L628.9 419.86 L627.31 418.48 L625.67 417.02 L623.98 415.46 L622.24 413.82 L622.23 413.81 L620.55 412.26 L620.54 412.25 L618.93 410.79 L618.92 410.78 L617.38 409.41 L617.37 409.4 L615.89 408.13 L615.88 408.12 L614.5 406.95 L614.49 406.94 L613.21 405.88 L613.19 405.87 L612 404.91 L611.99 404.9 L610.89 404.05 L610.87 404.04 L609.6 403.1 L609.59 403.09 L608.15 402.07 L608.14 402.06 L606.53 400.95 L606.52 400.94 L604.74 399.74 L604.73 399.73 L603.23 398.74 L603.21 398.73 L601.97 397.96 L601.94 397.94 L600.97 397.38 L600.92 397.34 L600.22 396.99Z" fill="#50c46a"/>
<path d="M564.3 378.9 L570 380.5 L576.5 383.2 L576.5 384.5 L574.9 385.8 L569 383 L565.9 380.3Z" fill="#472d7b"/>
<path d="M579.2 386.2 L586 388.8 L592.2 392.1 L592.6 394 L590.2 393.6 L585 390.8 L580 387.4Z" fill="#30688e"/>
<path d="M597.31 394.54 L597.23 394.58 L596.93 394.76 L596.65 394.97 L596.39 395.21 L596.16 395.47 L595.96 395.75 L595.78 396.05 L595.65 396.34 L596.42 396.85 L596.54 396.93 L598.31 398.23 L598.43 398.32 L600.12 399.7 L600.24 399.79 L601.85 401.24 L601.96 401.35 L603.49 402.87 L603.6 402.99 L605.05 404.59 L605.06 404.6 L606.57 406.29 L606.58 406.3 L608.16 408.07 L608.17 408.08 L609.8 409.94 L609.81 409.95 L611.51 411.9 L611.52 411.92 L613.09 413.73 L613.1 413.75 L614.54 415.44 L614.55 415.45 L615.86 417.01 L615.88 417.03 L617.05 418.45 L617.08 418.49 L618.21 419.91 L618.24 419.95 L619.32 421.35 L619.35 421.39 L620.38 422.78 L620.41 422.83 L621.36 424.17 L622.32 425.46 L623.31 426.72 L624.31 427.95 L625.36 429.17 L625.4 429.21 L626.5 430.53 L626.53 430.57 L627.65 431.97 L627.68 432.01 L628.83 433.48 L628.85 433.51 L630.03 435.06 L630.05 435.09 L631.19 436.63 L631.21 436.66 L632.31 438.18 L632.33 438.21 L633.39 439.73 L633.41 439.76 L634.43 441.24 L634.72 441.66 L635.4 442.45 L636.26 443.45 L637.19 444.56 L638.15 445.71 L639.13 446.92 L640.14 448.17 L641.18 449.49 L641.29 449.61 L642.43 450.92 L642.53 451.04 L643.77 452.34 L643.87 452.44 L645.16 453.69 L646.14 454.98 L647.22 456.49 L648.22 457.96 L649.14 459.4 L649.96 460.8 L650.71 461.98 L651.37 462.94 L651.95 463.69 L652.45 464.21 L653.12 464.93 L653.96 465.84 L654.96 466.95 L656.14 468.25 L657.26 469.57 L658.32 470.92 L659.32 472.3 L660.27 473.7 L661.23 475.05 L662.18 476.35 L663.12 477.6 L664.08 478.8 L665.02 479.88 L665.96 480.83 L666.89 481.65 L667.81 482.35 L668.66 482.91 L669.42 483.32 L670.1 483.59 L670.7 483.71 L671.12 483.62 L671.36 483.32 L671.41 482.81 L671.29 482.09 L671.14 481.19 L670.96 480.13 L670.76 478.9 L670.54 477.5 L670.31 476.18 L670.07 474.94 L669.83 473.79 L669.58 472.71 L669.19 471.54 L668.68 470.26 L668.04 468.89 L667.26 467.41 L666.55 465.93 L665.9 464.44 L665.31 462.95 L664.79 461.45 L664.19 459.88 L663.51 458.24 L662.76 456.54 L662.27 455.47 L662.12 455.24 L661.23 453.93 L660.51 452.94 L659.99 452.29 L659.58 451.86 L659.43 451.69 L658.8 450.92 L658.72 450.82 L657.94 449.8 L657.9 449.73 L656.99 448.46 L656.95 448.41 L655.92 446.91 L654.86 445.41 L653.77 443.92 L652.65 442.43 L651.51 440.95 L650.32 439.48 L649.41 438.41 L648.86 438.27 L648.06 437.1 L648.03 437.06 L647.37 436.13 L646.35 435.04 L645.18 433.79 L644.27 432.81 L643.61 432.12 L643.23 431.71 L642.61 431.07 L641.72 430.17 L640.58 429.02 L639.18 427.62 L637.75 426.2 L636.28 424.74 L634.77 423.25 L633.24 421.74 L631.67 420.24 L630.04 418.74 L628.35 417.22 L626.6 415.69 L624.78 414.13 L622.91 412.55 L620.98 410.93 L619 409.3 L616.94 407.64 L614.8 405.94 L612.58 404.21 L610.3 402.47 L608.04 400.84 L605.77 399.3 L603.5 397.85 L601.22 396.49 L599.01 395.24 L597.52 394.44Z" fill="none" stroke="#808080" stroke-width="2.08" stroke-linejoin="round"/>
<path d="M600.17 396.97 L599.68 396.76 L599.56 396.71 L599.27 396.62 L599.17 396.6 L599.07 396.58 L598.97 396.58 L598.87 396.58 L598.76 396.6 L598.66 396.62 L598.57 396.66 L598.48 396.7 L598.39 396.75 L598.31 396.8 L598.22 396.86 L598.15 396.93 L598.08 397.01 L598.02 397.09 L597.96 397.18 L597.92 397.28 L597.89 397.38 L597.86 397.48 L597.85 397.58 L597.85 397.68 L597.86 397.79 L597.87 397.89 L597.9 397.99 L597.94 398.09 L597.99 398.18 L598.04 398.27 L598.17 398.44 L598.23 398.52 L598.3 398.59 L598.63 398.91 L598.68 398.95 L599.21 399.4 L599.24 399.42 L599.98 400 L599.99 400.01 L600.93 400.73 L601.91 401.51 L602.93 402.36 L604 403.28 L605.11 404.27 L606.29 405.38 L607.55 406.63 L608.88 408 L610.3 409.52 L611.72 411.07 L613.14 412.65 L614.55 414.26 L615.98 415.9 L615.98 415.91 L617.4 417.53 L617.4 417.54 L618.81 419.14 L618.82 419.14 L620.22 420.72 L620.23 420.72 L621.63 422.27 L622.94 423.74 L624.17 425.15 L625.32 426.49 L626.39 427.76 L626.4 427.76 L627.3 428.82 L627.31 428.83 L628.05 429.68 L628.06 429.69 L628.62 430.33 L628.64 430.35 L629.02 430.76 L629.59 431.43 L630.37 432.39 L631.34 433.63 L632.51 435.15 L632.52 435.16 L633.55 436.47 L633.56 436.48 L634.45 437.58 L634.46 437.59 L635.2 438.48 L635.22 438.5 L635.82 439.17 L636.5 439.96 L637.27 440.85 L638.13 441.86 L639.08 442.98 L640.05 444.15 L641.04 445.37 L642.06 446.64 L643.11 447.96 L643.14 448 L644.28 449.31 L644.32 449.34 L645.55 450.64 L645.58 450.67 L646.91 451.96 L646.94 451.99 L648.37 453.26 L649.63 454.41 L650.75 455.46 L651.71 456.38 L652.53 457.2 L652.53 457.2 L653.23 457.89 L653.24 457.9 L653.8 458.43 L653.82 458.45 L654.25 458.84 L654.28 458.87 L654.58 459.12 L654.67 459.19 L654.76 459.24 L654.86 459.29 L654.96 459.32 L655.2 459.39 L655.29 459.42 L655.39 459.43 L655.49 459.43 L655.59 459.43 L655.69 459.41 L655.78 459.39 L655.87 459.36 L655.96 459.32 L656.05 459.27 L656.22 459.16 L656.31 459.09 L656.4 459.02 L656.47 458.94 L656.53 458.85 L656.59 458.75 L656.63 458.65 L656.75 458.36 L656.77 458.27 L656.8 458.19 L656.81 458.1 L656.86 457.62 L656.86 457.53 L656.86 457.45 L656.85 457.36 L656.75 456.65 L656.72 456.52 L656.46 455.57 L656.44 455.5 L656.02 454.32 L656 454.27 L655.43 452.85 L655.41 452.8 L654.78 451.45 L654.76 451.4 L654.08 450.11 L654.06 450.06 L653.33 448.84 L653.3 448.79 L652.52 447.64 L652.52 447.63 L651.77 446.55 L651.76 446.54 L651.04 445.51 L651.03 445.5 L650.33 444.54 L650.32 444.53 L649.65 443.63 L648.89 442.59 L648.03 441.38 L647.08 440.02 L646.03 438.5 L646.02 438.49 L644.94 436.96 L644.93 436.95 L643.82 435.42 L643.81 435.41 L642.67 433.89 L642.66 433.88 L641.49 432.35 L641.48 432.34 L640.38 430.97 L640.37 430.95 L639.36 429.72 L639.34 429.71 L638.41 428.63 L638.39 428.61 L637.54 427.68 L637.53 427.67 L636.68 426.78 L636.66 426.76 L635.81 425.91 L635.79 425.9 L634.94 425.09 L634.93 425.07 L634.08 424.29 L634.06 424.28 L633.04 423.38 L633.03 423.37 L631.83 422.33 L631.82 422.33 L630.45 421.16 L630.44 421.15 L628.9 419.86 L627.31 418.48 L625.67 417.02 L623.98 415.46 L622.24 413.82 L622.23 413.81 L620.55 412.26 L620.54 412.25 L618.93 410.79 L618.92 410.78 L617.38 409.41 L617.37 409.4 L615.89 408.13 L615.88 408.12 L614.5 406.95 L614.49 406.94 L613.21 405.88 L613.19 405.87 L612 404.91 L611.99 404.9 L610.89 404.05 L610.87 404.04 L609.6 403.1 L609.59 403.09 L608.15 402.07 L608.14 402.06 L606.53 400.95 L606.52 400.94 L604.74 399.74 L604.73 399.73 L603.23 398.74 L603.21 398.73 L601.97 397.96 L601.94 397.94 L600.97 397.38 L600.92 397.34 L600.22 396.99Z" fill="none" stroke="#808080" stroke-width="2.08" stroke-linejoin="round"/>
<path d="M682 646 L682 366" stroke="#000000" stroke-width="2.083" stroke-dasharray="7.708 3.333" fill="none"/>
<path d="M503 507 L845 507" stroke="#ff0000" stroke-width="2.083" stroke-dasharray="7.708 3.333" fill="none"/>
</g>
<path d="M503.5 646.5 L503.5 366.5 M845.5 646.5 L845.5 366.5 M503.5 646.5 L845.5 646.5 M503.5 366.5 L845.5 366.5" stroke="#000000" stroke-width="1.111" stroke-linecap="square" fill="none"/>
<path d="M509.5 646.5 L509.5 651.5 M595.5 646.5 L595.5 651.5 M682.5 646.5 L682.5 651.5 M769.5 646.5 L769.5 651.5 M503.5 584.5 L498.5 584.5 M503.5 507.5 L498.5 507.5 M503.5 429.5 L498.5 429.5" stroke="#000000" stroke-width="1.111" fill="none"/>
<!-- axes 5 -->
<clipPath id="c5"><rect x="913" y="366" width="342" height="280"/></clipPath>
<g clip-path="url(#c5)">
<path d="M1040.44 425.18 L1041.06 425.43 L1041.71 425.73 L1042.37 426.09 L1043.05 426.51 L1043.75 426.99 L1044.48 427.54 L1045.24 428.16 L1046.04 428.86 L1046.86 429.64 L1047.67 430.49 L1048.47 431.41 L1049.26 432.41 L1050.04 433.49 L1050.79 434.51 L1051.53 435.47 L1052.25 436.38 L1052.95 437.22 L1053.71 438.11 L1054.52 439.04 L1055.39 440 L1056.31 441 L1057.29 442.11 L1058.31 443.32 L1059.39 444.64 L1060.51 446.06 L1061.61 447.4 L1062.67 448.65 L1063.7 449.81 L1064.7 450.89 L1065.74 452.12 L1066.83 453.51 L1067.96 455.05 L1069.14 456.75 L1070.34 458.41 L1071.56 460.04 L1072.81 461.63 L1074.09 463.17 L1075.29 464.72 L1076.41 466.28 L1077.46 467.83 L1078.44 469.37 L1079.42 470.92 L1080.41 472.48 L1081.4 474.02 L1082.4 475.57 L1083.36 477.12 L1084.29 478.66 L1085.17 480.19 L1086.02 481.71 L1086.88 483.21 L1087.74 484.67 L1088.61 486.1 L1089.49 487.5 L1090.36 488.91 L1091.22 490.32 L1092.08 491.74 L1092.92 493.16 L1093.78 494.65 L1094.63 496.2 L1095.48 497.81 L1096.33 499.49 L1097.14 501.17 L1097.91 502.86 L1098.65 504.55 L1099.35 506.25 L1100.02 507.94 L1100.66 509.63 L1101.26 511.31 L1101.84 512.99 L1102.34 514.46 L1102.76 515.72 L1103.11 516.78 L1103.39 517.62 L1103.45 518.42 L1103.3 519.17 L1102.94 519.88 L1102.36 520.53 L1101.83 521.01 L1101.34 521.34 L1100.9 521.5 L1100.5 521.5 L1099.95 521.27 L1099.25 520.81 L1098.4 520.11 L1097.4 519.19 L1096.37 518.14 L1095.31 516.98 L1094.21 515.7 L1093.09 514.3 L1091.96 512.83 L1090.84 511.27 L1089.71 509.65 L1088.59 507.95 L1087.43 506.22 L1086.22 504.46 L1084.99 502.66 L1083.71 500.84 L1082.44 499.01 L1081.18 497.19 L1079.92 495.36 L1078.67 493.54 L1077.5 491.81 L1076.4 490.17 L1075.38 488.63 L1074.43 487.17 L1073.58 485.79 L1072.84 484.46 L1072.21 483.2 L1071.69 482 L1071.05 480.67 L1070.3 479.23 L1069.44 477.65 L1068.46 475.95 L1067.48 474.22 L1066.49 472.46 L1065.5 470.66 L1064.5 468.84 L1063.51 467.01 L1062.52 465.19 L1061.54 463.36 L1060.56 461.54 L1059.64 459.84 L1058.76 458.26 L1057.94 456.81 L1057.16 455.49 L1056.44 454.12 L1055.76 452.72 L1055.14 451.29 L1054.56 449.81 L1053.99 448.46 L1053.43 447.24 L1052.88 446.14 L1052.32 445.16 L1051.74 444.09 L1051.13 442.91 L1050.49 441.64 L1049.81 440.26 L1049.16 439.08 L1048.52 438.09 L1047.9 437.3 L1047.3 436.7 L1046.68 436.11 L1046.04 435.52 L1045.39 434.94 L1044.71 434.36 L1043.97 433.77 L1043.18 433.18 L1042.31 432.56 L1041.39 431.94 L1040.6 431.22 L1039.95 430.41 L1039.44 429.5 L1039.06 428.5 L1038.84 427.61 L1038.78 426.84 L1038.88 426.17 L1039.12 425.63 L1039.47 425.28 L1039.91 425.12Z" fill="#808080"/>
<path d="M1048.56 436.65 L1048.61 436.7 L1048.66 436.74 L1048.72 436.78 L1048.77 436.82 L1048.84 436.85 L1048.9 436.87 L1048.97 436.89 L1049.04 436.9 L1049.11 436.9 L1049.17 436.9 L1049.24 436.89 L1049.31 436.87 L1049.37 436.84 L1049.43 436.81 L1049.49 436.78 L1049.55 436.74 L1049.6 436.69 L1049.64 436.64 L1049.68 436.58 L1049.72 436.53 L1049.75 436.46 L1049.77 436.4 L1049.79 436.33 L1049.8 436.26 L1049.8 436.19 L1049.8 436.13 L1049.79 436.06 L1049.77 435.99 L1049.74 435.93 L1049.71 435.87 L1049.68 435.81 L1049.64 435.75 L1045.64 430.95 L1045.59 430.9 L1045.54 430.86 L1045.48 430.82 L1045.43 430.78 L1045.36 430.75 L1045.3 430.73 L1045.23 430.71 L1045.16 430.7 L1045.09 430.7 L1045.03 430.7 L1044.96 430.71 L1044.89 430.73 L1044.83 430.76 L1044.77 430.79 L1044.71 430.82 L1044.65 430.86 L1044.6 430.91 L1044.56 430.96 L1044.52 431.02 L1044.48 431.07 L1044.45 431.14 L1044.43 431.2 L1044.41 431.27 L1044.4 431.34 L1044.4 431.41 L1044.4 431.47 L1044.41 431.54 L1044.43 431.61 L1044.46 431.67 L1044.49 431.73 L1044.52 431.79 L1044.56 431.85Z" fill="#472d7b"/>
<path d="M1054.3 444.5 L1056 444.5 L1058.5 451.5 L1057 452Z" fill="#472d7b"/>
<path d="M1060.5 451.5 L1063.5 452 L1064 456 L1062 457.2 L1060.5 454Z" fill="#30688e"/>
<path d="M1065.5 463.5 L1068.5 464 L1071.5 468.5 L1069 468Z" fill="#30688e"/>
<path d="M1069.62 467.93 L1070.48 468.18 L1072.3 470.15 L1075.1 473.85 L1077.62 477.38 L1079.88 480.72 L1081.72 483.67 L1083.18 486.23 L1084.93 489.88 L1086.97 494.62 L1088.7 498.55 L1090.1 501.65 L1090.47 503.15 L1089.83 503.05 L1088.88 502 L1087.62 500 L1085.65 496.55 L1082.95 491.65 L1080.9 487.92 L1079.5 485.38 L1077.67 482.43 L1075.42 479.07 L1073.17 475.42 L1070.92 471.48 L1069.65 469.07 L1069.35 468.23Z" fill="#50c46a"/>
<path d="M1093.5 504 L1095.5 504 L1097 510 L1096.5 512.2 L1094.5 511 L1093.5 507Z" fill="#30688e"/>
<path d="M1093.5 512.5 L1097 511.5 L1099 509 L1100.5 513 L1102 518.5 L1100.5 519.5 L1096 516Z" fill="#472d7b"/>
<circle cx="1040.3" cy="429.3" r="4.167" fill="#ff7f0e" stroke="#000000" stroke-width="1.389"/>
<circle cx="1052.5" cy="440.3" r="4.167" fill="#ff7f0e" stroke="#000000" stroke-width="1.389"/>
<circle cx="1066.4" cy="460.2" r="4.167" fill="#ff7f0e" stroke="#000000" stroke-width="1.389"/>
<circle cx="1085.5" cy="492.2" r="4.167" fill="#ff7f0e" stroke="#000000" stroke-width="1.389"/>
<path d="M1092 646 L1092 366" stroke="#000000" stroke-width="2.083" stroke-dasharray="7.708 3.333" fill="none"/>
<path d="M913 507 L1255 507" stroke="#ff0000" stroke-width="2.083" stroke-dasharray="7.708 3.333" fill="none"/>
</g>
<path d="M913.5 646.5 L913.5 366.5 M1255.5 646.5 L1255.5 366.5 M913.5 646.5 L1255.5 646.5 M913.5 366.5 L1255.5 366.5" stroke="#000000" stroke-width="1.111" stroke-linecap="square" fill="none"/>
<path d="M919.5 646.5 L919.5 651.5 M1006.5 646.5 L1006.5 651.5 M1092.5 646.5 L1092.5 651.5 M1179.5 646.5 L1179.5 651.5 M913.5 584.5 L908.5 584.5 M913.5 507.5 L908.5 507.5 M913.5 429.5 L908.5 429.5" stroke="#000000" stroke-width="1.111" fill="none"/>
<rect x="99.5" y="257.5" width="200" height="46" rx="2.778" ry="2.778" fill="#ffffff" stroke="#cccccc" stroke-width="1.389" opacity="0.8"/>
<path d="M105 268 L133 268" stroke="#000000" stroke-width="2.083" stroke-dasharray="7.708 3.333" fill="none"/>
<path d="M105 289 L133 289" stroke="#ff0000" stroke-width="2.083" stroke-dasharray="7.708 3.333" fill="none"/>
<rect x="510.5" y="257.5" width="199" height="46" rx="2.778" ry="2.778" fill="#ffffff" stroke="#cccccc" stroke-width="1.389" opacity="0.8"/>
<path d="M515 268 L543 268" stroke="#000000" stroke-width="2.083" stroke-dasharray="7.708 3.333" fill="none"/>
<path d="M515 289 L543 289" stroke="#ff0000" stroke-width="2.083" stroke-dasharray="7.708 3.333" fill="none"/>
<rect x="920.5" y="257.5" width="200" height="46" rx="2.778" ry="2.778" fill="#ffffff" stroke="#cccccc" stroke-width="1.389" opacity="0.8"/>
<path d="M926 268 L953 268" stroke="#000000" stroke-width="2.083" stroke-dasharray="7.708 3.333" fill="none"/>
<path d="M926 289 L953 289" stroke="#ff0000" stroke-width="2.083" stroke-dasharray="7.708 3.333" fill="none"/>
<rect x="99.5" y="593.5" width="200" height="46" rx="2.778" ry="2.778" fill="#ffffff" stroke="#cccccc" stroke-width="1.389" opacity="0.8"/>
<path d="M105 604 L133 604" stroke="#000000" stroke-width="2.083" stroke-dasharray="7.708 3.333" fill="none"/>
<path d="M105 625 L133 625" stroke="#ff0000" stroke-width="2.083" stroke-dasharray="7.708 3.333" fill="none"/>
<rect x="510.5" y="593.5" width="199" height="46" rx="2.778" ry="2.778" fill="#ffffff" stroke="#cccccc" stroke-width="1.389" opacity="0.8"/>
<path d="M515 604 L543 604" stroke="#000000" stroke-width="2.083" stroke-dasharray="7.708 3.333" fill="none"/>
<path d="M515 625 L543 625" stroke="#ff0000" stroke-width="2.083" stroke-dasharray="7.708 3.333" fill="none"/>
<rect x="920.5" y="593.5" width="200" height="46" rx="2.778" ry="2.778" fill="#ffffff" stroke="#cccccc" stroke-width="1.389" opacity="0.8"/>
<path d="M926 604 L953 604" stroke="#000000" stroke-width="2.083" stroke-dasharray="7.708 3.333" fill="none"/>
<path d="M926 625 L953 625" stroke="#ff0000" stroke-width="2.083" stroke-dasharray="7.708 3.333" fill="none"/>
<text x="234.67" y="336.65" font-size="21.87" textLength="55.90" lengthAdjust="spacingAndGlyphs">alpha</text>
<text x="35.67" y="256.89" font-size="20.42" textLength="45.33" lengthAdjust="spacingAndGlyphs">−0.5</text>
<text x="51.97" y="178.19" font-size="20.42" textLength="29.01" lengthAdjust="spacingAndGlyphs">0.0</text>
<text x="51.97" y="100.69" font-size="20.42" textLength="29.01" lengthAdjust="spacingAndGlyphs">0.5</text>
<text x="7.50" y="171.61" font-size="21.87" textLength="32.87" lengthAdjust="spacingAndGlyphs" transform="rotate(-90 25.72 170.4)">rho</text>
<text x="128.00" y="22.06" font-size="17.50" textLength="271.60" lengthAdjust="spacingAndGlyphs">Posterior Relationship spike_slab</text>
<text x="143.94" y="273.53" font-size="14.58" textLength="148.97" lengthAdjust="spacingAndGlyphs">True Treatment Effect</text>
<text x="143.94" y="295.01" font-size="14.58" textLength="56.68" lengthAdjust="spacingAndGlyphs">True rho</text>
<text x="644.97" y="336.65" font-size="21.87" textLength="55.32" lengthAdjust="spacingAndGlyphs">alpha</text>
<text x="469.88" y="171.01" font-size="21.87" textLength="32.87" lengthAdjust="spacingAndGlyphs" transform="rotate(-90 488.09 170.4)">rho</text>
<text x="535.35" y="22.06" font-size="17.50" textLength="277.51" lengthAdjust="spacingAndGlyphs">Posterior Relationship horse shoe</text>
<text x="553.63" y="273.53" font-size="14.58" textLength="149.58" lengthAdjust="spacingAndGlyphs">True Treatment Effect</text>
<text x="553.62" y="295.01" font-size="14.58" textLength="57.30" lengthAdjust="spacingAndGlyphs">True rho</text>
<text x="1055.25" y="336.65" font-size="21.87" textLength="55.32" lengthAdjust="spacingAndGlyphs">alpha</text>
<text x="880.17" y="171.61" font-size="21.87" textLength="32.87" lengthAdjust="spacingAndGlyphs" transform="rotate(-90 898.39 170.4)">rho</text>
<text x="906.00" y="22.06" font-size="17.50" textLength="356.18" lengthAdjust="spacingAndGlyphs">Posterior Relationship exclusion_restriction</text>
<text x="964.53" y="273.53" font-size="14.58" textLength="149.58" lengthAdjust="spacingAndGlyphs">True Treatment Effect</text>
<text x="964.52" y="295.01" font-size="14.58" textLength="57.30" lengthAdjust="spacingAndGlyphs">True rho</text>
<text x="92.37" y="670.90" font-size="20.42" textLength="11.63" lengthAdjust="spacingAndGlyphs">1</text>
<text x="179.09" y="670.90" font-size="20.42" textLength="10.93" lengthAdjust="spacingAndGlyphs">2</text>
<text x="265.68" y="670.90" font-size="20.42" textLength="12.37" lengthAdjust="spacingAndGlyphs">3</text>
<text x="353.63" y="670.90" font-size="20.42" textLength="11.06" lengthAdjust="spacingAndGlyphs">4</text>
<text x="234.67" y="696.93" font-size="21.87" textLength="55.90" lengthAdjust="spacingAndGlyphs">alpha</text>
<text x="35.67" y="592.89" font-size="20.42" textLength="45.33" lengthAdjust="spacingAndGlyphs">−0.5</text>
<text x="51.97" y="514.19" font-size="20.42" textLength="29.01" lengthAdjust="spacingAndGlyphs">0.0</text>
<text x="51.97" y="436.69" font-size="20.42" textLength="29.01" lengthAdjust="spacingAndGlyphs">0.5</text>
<text x="7.50" y="507.61" font-size="21.87" textLength="32.87" lengthAdjust="spacingAndGlyphs" transform="rotate(-90 25.72 506.4)">rho</text>
<text x="141.03" y="358.06" font-size="17.50" textLength="244.36" lengthAdjust="spacingAndGlyphs">Posterior Relationship normal</text>
<text x="143.94" y="609.53" font-size="14.58" textLength="148.97" lengthAdjust="spacingAndGlyphs">True Treatment Effect</text>
<text x="143.94" y="631.01" font-size="14.58" textLength="56.68" lengthAdjust="spacingAndGlyphs">True rho</text>
<text x="503.24" y="670.90" font-size="20.42" textLength="11.63" lengthAdjust="spacingAndGlyphs">1</text>
<text x="589.98" y="670.90" font-size="20.42" textLength="10.93" lengthAdjust="spacingAndGlyphs">2</text>
<text x="675.98" y="670.90" font-size="20.42" textLength="12.37" lengthAdjust="spacingAndGlyphs">3</text>
<text x="764.51" y="670.90" font-size="20.42" textLength="11.06" lengthAdjust="spacingAndGlyphs">4</text>
<text x="644.97" y="696.93" font-size="21.87" textLength="55.32" lengthAdjust="spacingAndGlyphs">alpha</text>
<text x="469.88" y="507.01" font-size="21.87" textLength="32.87" lengthAdjust="spacingAndGlyphs" transform="rotate(-90 488.09 506.4)">rho</text>
<text x="544.48" y="358.06" font-size="17.50" textLength="259.25" lengthAdjust="spacingAndGlyphs">Posterior Relationship tight_rho</text>
<text x="553.63" y="609.53" font-size="14.58" textLength="149.58" lengthAdjust="spacingAndGlyphs">True Treatment Effect</text>
<text x="553.62" y="631.01" font-size="14.58" textLength="57.30" lengthAdjust="spacingAndGlyphs">True rho</text>
<text x="913.52" y="670.90" font-size="20.42" textLength="11.63" lengthAdjust="spacingAndGlyphs">1</text>
<text x="999.65" y="670.90" font-size="20.42" textLength="11.63" lengthAdjust="spacingAndGlyphs">2</text>
<text x="1086.91" y="670.90" font-size="20.42" textLength="11.70" lengthAdjust="spacingAndGlyphs">3</text>
<text x="1174.26" y="670.90" font-size="20.42" textLength="11.06" lengthAdjust="spacingAndGlyphs">4</text>
<text x="1055.25" y="696.93" font-size="21.87" textLength="55.32" lengthAdjust="spacingAndGlyphs">alpha</text>
<text x="880.17" y="507.61" font-size="21.87" textLength="32.87" lengthAdjust="spacingAndGlyphs" transform="rotate(-90 898.39 506.4)">rho</text>
<text x="907.18" y="358.06" font-size="17.50" textLength="353.83" lengthAdjust="spacingAndGlyphs">Posterior Relationship tight_rho_spike_slab</text>
<text x="964.53" y="609.53" font-size="14.58" textLength="149.58" lengthAdjust="spacingAndGlyphs">True Treatment Effect</text>
<text x="964.52" y="631.01" font-size="14.58" textLength="57.30" lengthAdjust="spacingAndGlyphs">True rho</text>
</svg>
</body></html>
